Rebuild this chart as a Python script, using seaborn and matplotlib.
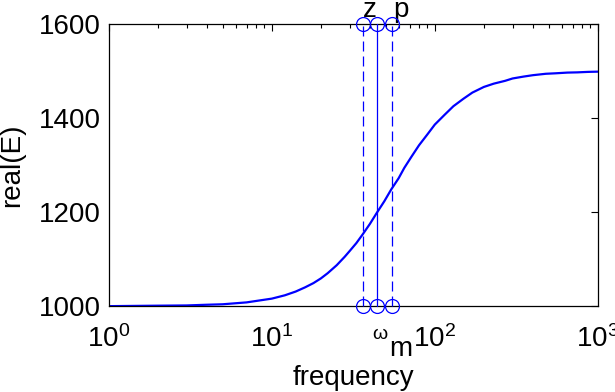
import numpy as np
import pandas as pd
import seaborn as sns
import matplotlib
matplotlib.use("Agg")
import matplotlib.pyplot as plt

# ------ data ------
freq = [1, 2, 3, 4, 5, 7, 10, 12, 14, 16, 18, 20, 22, 25, 28, 30, 33, 36, 40, 44, 49, 54,
        60, 65, 72, 80, 90, 100, 115, 130, 150, 170, 200, 230, 270, 300, 350, 400, 480,
        550, 650, 750, 870, 1000]
realE = [1000, 1001, 1001.5, 1003, 1004, 1008, 1016, 1023, 1031, 1040, 1049, 1059, 1070,
         1087, 1105, 1117, 1134, 1152, 1175, 1198, 1223, 1248, 1272, 1294, 1318, 1342, 1365,
         1386, 1407, 1425, 1441, 1454, 1466, 1473, 1479, 1484, 1488, 1491, 1494, 1495,
         1496.5, 1497, 1498, 1498.5]
w_z, w_m, w_p = 36.3, 44.4, 54.4
y_lo, y_hi = 1000, 1600
yticks = [1000, 1200, 1400, 1600]

df = pd.DataFrame({"frequency": freq, "realE": realE})

sns.set_style("white")
plt.rcParams['font.family'] = ['Liberation Sans', 'DejaVu Sans']
plt.rcParams['mathtext.fontset'] = 'custom'
plt.rcParams['mathtext.rm'] = 'Liberation Sans'
plt.rcParams['mathtext.it'] = 'Liberation Sans'
for k in ['text.color', 'axes.labelcolor', 'xtick.color', 'ytick.color']:
    plt.rcParams[k] = 'black'

fig = plt.figure(figsize=(6.15, 3.92), dpi=100)
ax = fig.add_axes([0.177, 0.219, 0.795, 0.72])

sns.lineplot(data=df, x="frequency", y="realE", ax=ax, color="blue", lw=1.6)

# vertical markers: z (dashed), omega_m (solid), p (dashed)
for w, ls in [(w_z, "--"), (w_m, "-"), (w_p, "--")]:
    line, = ax.plot([w, w], [y_lo, y_hi], color="blue", ls=ls, lw=0.9,
                    marker="o", mfc="none", mec="blue", ms=10, mew=0.9, clip_on=False, zorder=5)
    if ls == "--":
        line.set_dashes((8, 4))

ax.set_xscale("log")
ax.set_xlim(1, 1000)
ax.set_ylim(y_lo, y_hi)
ax.set_yticks(yticks)
ax.set_yticklabels([str(v) for v in yticks])

ax.text(w_z, 1615, "z", fontsize=20, ha="left", va="baseline")
ax.text(w_p * 1.02, 1615, "p", fontsize=20, ha="left", va="baseline")
ax.text(46.0, 940, r"$\omega$", fontsize=14, ha="center", va="center")
ax.text(61.5, 908, "m", fontsize=20, ha="center", va="center")

ax.set_xlabel("frequency", fontsize=20, labelpad=8)
ax.set_ylabel("real(E)", fontsize=20, labelpad=10)
ax.tick_params(axis="both", which="major", labelsize=20, direction="in", length=5,
               top=True, right=True, width=0.8)
ax.tick_params(axis="x", which="minor", direction="in", length=3, top=True, width=0.8)
ax.tick_params(axis="x", which="major", pad=14)
ax.tick_params(axis="y", which="major", pad=6)
for s in ax.spines.values():
    s.set_color("black")
    s.set_linewidth(0.9)

fig.savefig("out.png", dpi=100)
